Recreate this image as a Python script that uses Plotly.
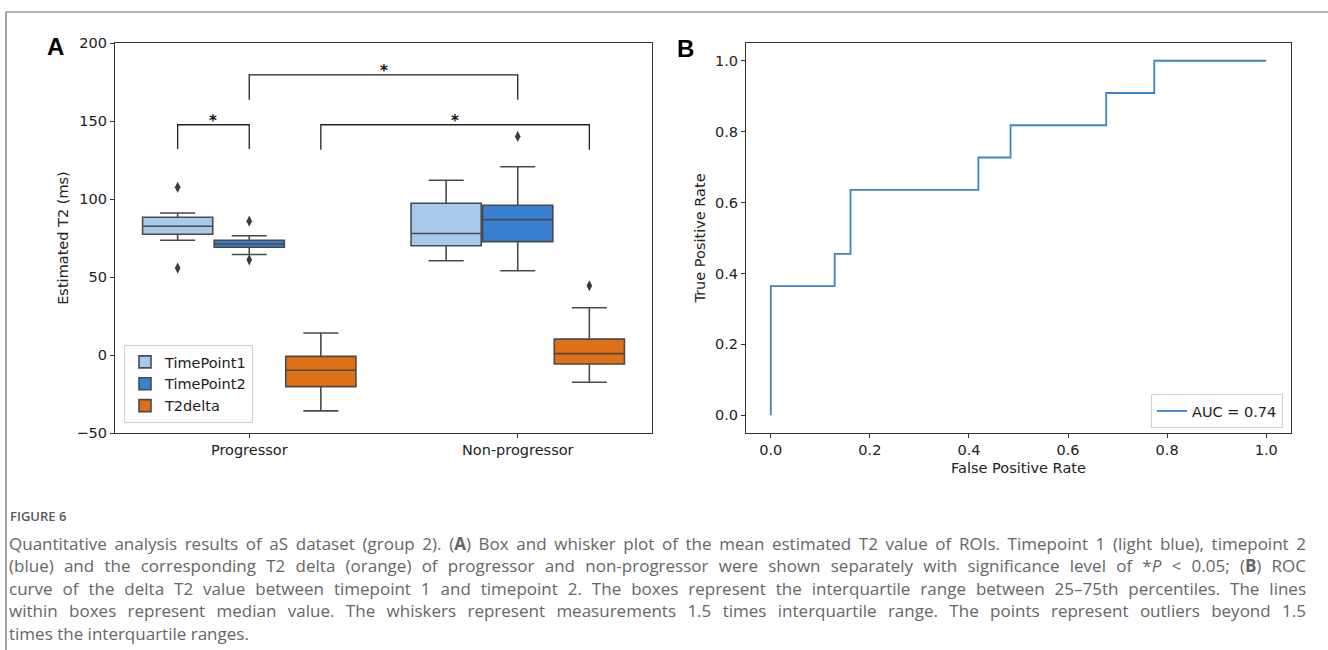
import plotly.graph_objects as go

# ---------------- data ----------------
groups = ["Progressor", "Non-progressor"]
series = ["TimePoint1", "TimePoint2", "T2delta"]
series_colors = ["#a6c9ec", "#3a80d2", "#e07015"]

# box statistics per series: [Progressor, Non-progressor]
q1 = {"TimePoint1": [77.4, 70.0], "TimePoint2": [69.1, 72.7], "T2delta": [-20.3, -5.8]}
median = {"TimePoint1": [82.5, 77.9], "TimePoint2": [71.2, 86.8], "T2delta": [-9.8, 0.9]}
q3 = {"TimePoint1": [88.3, 97.3], "TimePoint2": [73.6, 96.0], "T2delta": [-0.9, 10.2]}
lower = {"TimePoint1": [73.6, 60.4], "TimePoint2": [64.4, 54.0], "T2delta": [-35.8, -17.5]}
upper = {"TimePoint1": [91.0, 112.0], "TimePoint2": [76.4, 120.7], "T2delta": [14.1, 30.3]}
# outliers: list of (group index, value)
outliers = {
    "TimePoint1": [(0, 107.5), (0, 55.7)],
    "TimePoint2": [(0, 85.8), (0, 61.0), (1, 140.1)],
    "T2delta": [(1, 44.4)],
}
# significance brackets: (group a, series a, group b, series b, top y, foot y)
brackets = [
    (0, "TimePoint1", 0, "TimePoint2", 147.6, 132.0),
    (0, "TimePoint2", 1, "TimePoint2", 179.6, 163.6),
    (0, "T2delta", 1, "T2delta", 147.6, 131.6),
]

# ROC curve
fpr = [0.0, 0.0, 0.129, 0.129, 0.161, 0.161, 0.419, 0.419, 0.484, 0.484, 0.677, 0.677, 0.774, 0.774, 1.0]
tpr = [0.0, 0.364, 0.364, 0.455, 0.455, 0.636, 0.636, 0.727, 0.727, 0.818, 0.818, 0.909, 0.909, 1.0, 1.0]
auc_label = "AUC = 0.74"

caption_title = "FIGURE 6"
caption_lines = [
    "Quantitative analysis results of aS dataset (group 2). (<b>A</b>) Box and whisker plot of the mean estimated T2 value of ROIs. Timepoint 1 (light blue), timepoint 2",
    "(blue) and the corresponding T2 delta (orange) of progressor and non-progressor were shown separately with significance level of *<i>P</i> < 0.05; (<b>B</b>) ROC",
    "curve of the delta T2 value between timepoint 1 and timepoint 2. The boxes represent the interquartile range between 25–75th percentiles. The lines",
    "within boxes represent median value. The whiskers represent measurements 1.5 times interquartile range. The points represent outliers beyond 1.5",
    "times the interquartile ranges.",
]

# ---------------- figure ----------------
W, H = 1328, 650
TICKFONT = dict(family="DejaVu Sans", size=14.5, color="#222")
EDGE = "#4a4a4a"
hue_width = 0.8 / len(series)


def pos(g, s):
    return g + (series.index(s) - 1) * hue_width


fig = go.Figure()

for s, col in zip(series, series_colors):
    fig.add_trace(go.Box(
        x=[pos(g, s) for g in range(len(groups))],
        q1=q1[s], median=median[s], q3=q3[s],
        lowerfence=lower[s], upperfence=upper[s],
        width=hue_width * 0.98,
        fillcolor=col, line=dict(color=EDGE, width=1.6),
        name=s, boxpoints=False, whiskerwidth=0.5,
        xaxis="x", yaxis="y", legend="legend",
        hoverinfo="skip",
    ))
    if outliers[s]:
        fig.add_trace(go.Scatter(
            x=[pos(g, s) for g, v in outliers[s]],
            y=[v for g, v in outliers[s]],
            mode="markers",
            marker=dict(symbol="diamond-tall", size=8, color="#3c3c3c"),
            showlegend=False, xaxis="x", yaxis="y", hoverinfo="skip",
        ))

fig.add_trace(go.Scatter(
    x=fpr, y=tpr, mode="lines", name=auc_label,
    line=dict(color="#3a86c8", width=1.8),
    xaxis="x2", yaxis="y2", legend="legend2",
))

shapes = []
annotations = []
for ga, sa, gb, sb, top, foot in brackets:
    xa, xb = pos(ga, sa), pos(gb, sb)
    shapes.append(dict(type="path", xref="x", yref="y",
                       path=f"M {xa} {foot} L {xa} {top} L {xb} {top} L {xb} {foot}",
                       line=dict(color="#222", width=1.3)))
    annotations.append(dict(x=(xa + xb) / 2, y=top, xref="x", yref="y", text="<b>*</b>",
                            showarrow=False, yanchor="bottom", yshift=-7,
                            font=dict(family="DejaVu Sans", size=15, color="#111")))

# figure frame (left and top)
shapes.append(dict(type="path", xref="paper", yref="paper",
                   path=f"M {6/W} 0 L {6/W} {1-12/H} L 1 {1-12/H}",
                   line=dict(color="#6a6a6a", width=1.2)))

# panel letters
annotations.append(dict(x=56 / W, y=1 - 47 / H, xref="paper", yref="paper", text="<b>A</b>",
                        showarrow=False, xanchor="center", yanchor="middle",
                        font=dict(family="Liberation Sans", size=24, color="#000")))
annotations.append(dict(x=685 / W, y=1 - 48 / H, xref="paper", yref="paper", text="<b>B</b>",
                        showarrow=False, xanchor="center", yanchor="middle",
                        font=dict(family="Liberation Sans", size=24, color="#000")))

# caption
annotations.append(dict(x=8 / W, y=1 - 516 / H, xref="paper", yref="paper", text=caption_title,
                        showarrow=False, xanchor="left", yanchor="middle", align="left",
                        font=dict(family="Open Sans", size=13, color="#5a5a5a", weight=600)))
for i, line in enumerate(caption_lines):
    annotations.append(dict(x=7 / W, y=1 - (543 + i * 22.5) / H, xref="paper", yref="paper",
                            text=line, showarrow=False, xanchor="left", yanchor="middle",
                            align="left",
                            font=dict(family="Open Sans", size=17, color="#666")))

axis_common = dict(showline=True, linecolor="#333", linewidth=1.1, mirror=True,
                   ticks="outside", ticklen=4, tickcolor="#333", showgrid=False,
                   zeroline=False, tickfont=TICKFONT, automargin=False)

fig.update_layout(
    width=W, height=H, margin=dict(l=0, r=0, t=0, b=0, pad=0, autoexpand=False),
    paper_bgcolor="white", plot_bgcolor="white",
    showlegend=True,
    xaxis=dict(domain=[115 / W, 652 / W], range=[-0.5, 1.5], tickvals=[0, 1], ticktext=groups,
               anchor="y", **axis_common),
    yaxis=dict(domain=[1 - 433 / H, 1 - 43 / H], range=[-50, 200], tickvals=[-50, 0, 50, 100, 150, 200],
               anchor="x", title=dict(text="Estimated T2 (ms)", font=TICKFONT, standoff=4), **axis_common),
    xaxis2=dict(domain=[746 / W, 1291 / W], range=[-0.05, 1.05], tickvals=[0, 0.2, 0.4, 0.6, 0.8, 1.0],
                tickformat=".1f", anchor="y2",
                title=dict(text="False Positive Rate", font=TICKFONT, standoff=5), **axis_common),
    yaxis2=dict(domain=[1 - 433 / H, 1 - 43 / H], range=[-0.05, 1.05], tickvals=[0, 0.2, 0.4, 0.6, 0.8, 1.0],
                tickformat=".1f", anchor="x2",
                title=dict(text="True Positive Rate", font=TICKFONT, standoff=5), **axis_common),
    legend=dict(x=124 / W, y=1 - 345 / H, xanchor="left", yanchor="top",
                bgcolor="rgba(255,255,255,0.85)", bordercolor="#d0d0d0", borderwidth=1,
                font=dict(family="DejaVu Sans", size=14.5, color="#222"), tracegroupgap=0),
    legend2=dict(x=1283 / W, y=1 - 428 / H, xanchor="right", yanchor="bottom",
                 bgcolor="rgba(255,255,255,0.85)", bordercolor="#d0d0d0", borderwidth=1,
                 font=dict(family="DejaVu Sans", size=14.5, color="#222")),
    shapes=shapes,
    annotations=annotations,
)

# page margin off, and justify the caption's full lines to the caption width
post_js = """
document.body.style.margin = '0';
var gd = document.getElementById('{plot_id}');
var target = 1297;
gd.querySelectorAll('text.annotation-text').forEach(function (t) {
  var txt = t.textContent;
  if (txt.length < 120) return;
  var n = (txt.match(/ /g) || []).length;
  var cur = t.getComputedTextLength();
  if (n > 0 && cur < target) {
    t.style.wordSpacing = ((target - cur) / n) + 'px';
  }
});
"""

fig.write_html("out.html", config={"displayModeBar": False}, post_script=post_js)
